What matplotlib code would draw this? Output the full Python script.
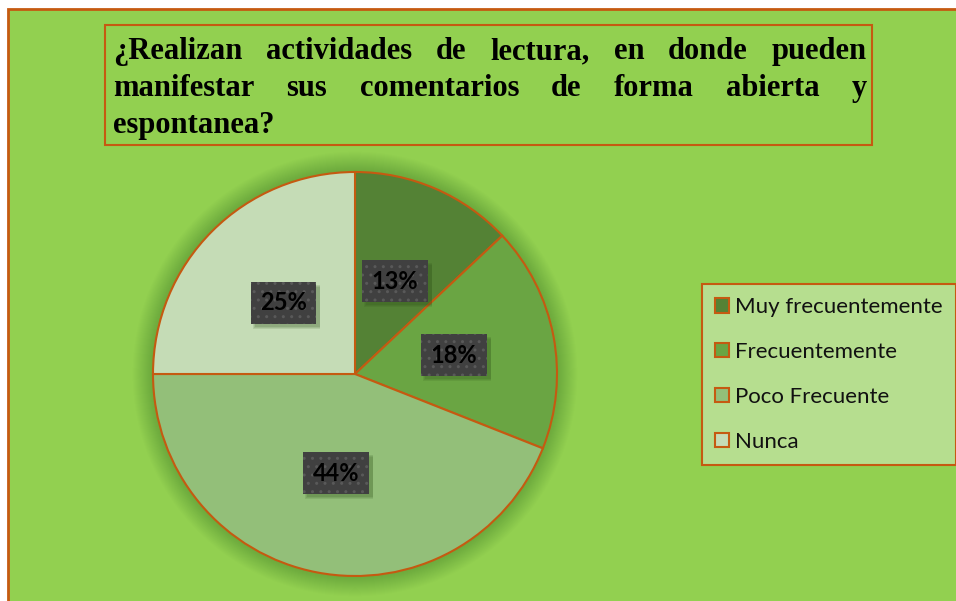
import matplotlib
matplotlib.use('Agg')
import matplotlib.pyplot as plt
from matplotlib.patches import Rectangle, Circle
from matplotlib.transforms import IdentityTransform

categories = ['Muy frecuentemente', 'Frecuentemente', 'Poco Frecuente', 'Nunca']
values = [13, 18, 44, 25]
colors = ['#548235', '#6aa543', '#93bf79', '#c5dcb6']
title_lines = ['¿Realizan actividades de lectura, en donde pueden',
               'manifestar sus comentarios de forma abierta y',
               'espontanea?']

W, H = 956, 601
ORANGE = '#c55a11'
GREEN = '#92d050'

fig = plt.figure(figsize=(W / 100, H / 100), dpi=100)
fig.patch.set_facecolor('white')
bg = fig.add_axes([0, 0, 1, 1])
bg.set_xlim(0, W)
bg.set_ylim(H, 0)
bg.axis('off')
bg.add_patch(Rectangle((8, 9), W + 20, H + 20, facecolor=GREEN, edgecolor=ORANGE, lw=2))
bg.add_patch(Rectangle((105, 25), 767, 120, facecolor=GREEN, edgecolor=ORANGE, lw=1.5))

# justified title
renderer = fig.canvas.get_renderer()
x0, x1 = 113, 867
baselines = [59, 96, 133]
TFS = 22
tfont = dict(fontfamily='Liberation Serif', fontweight='bold', fontsize=TFS, color='black')
for i, (line, yb) in enumerate(zip(title_lines, baselines)):
    words = line.split()
    texts = [bg.text(0, yb, w, va='baseline', ha='left', **tfont) for w in words]
    widths = [t.get_window_extent(renderer).width for t in texts]
    if i < len(title_lines) - 1 and len(words) > 1:
        gap = (x1 - x0 - sum(widths)) / (len(words) - 1)
    else:
        gap = TFS * 0.25 * 100 / 72
    x = x0
    for t, w in zip(texts, widths):
        t.set_x(x)
        x += w + gap

# pie
R, cx, cy = 202, 355, 374
ext = 1.25
ax = fig.add_axes([(cx - ext * R) / W, (H - cy - ext * R) / H, 2 * ext * R / W, 2 * ext * R / H])
for k in range(20):
    ax.add_patch(Circle((0, 0), 1.10 - 0.005 * k, facecolor='#3f6e22', edgecolor='none',
                        alpha=0.02, zorder=0))
wedges, texts, autotexts = ax.pie(values, colors=colors, startangle=90, counterclock=False,
                                  autopct='%1.0f%%', pctdistance=0.5,
                                  wedgeprops=dict(edgecolor=ORANGE, linewidth=1.5))
ax.set_xlim(-ext, ext)
ax.set_ylim(-ext, ext)
ax.set_aspect('auto')
ax.axis('off')
for at in autotexts:
    at.set_fontfamily('Lato')
    at.set_fontweight('bold')
    at.set_fontsize(17)
    at.set_color('black')
    at.set_zorder(5)
    at.set_bbox(dict(boxstyle='square,pad=0.4', facecolor='#404040', edgecolor='#595959',
                     hatch='..', linewidth=0))

fig.canvas.draw()
renderer = fig.canvas.get_renderer()
for at in autotexts:
    bb = at.get_bbox_patch().get_window_extent(renderer)
    for k, a in enumerate([0.12, 0.12, 0.15]):
        ax.add_patch(Rectangle((bb.x0 + 2 + k, bb.y0 - 5 + k), bb.width + 2 - k, bb.height,
                               transform=IdentityTransform(), facecolor='#2d4f18',
                               edgecolor='none', alpha=a, zorder=4, clip_on=False))

leg = fig.legend(wedges, categories, loc='upper left', bbox_to_anchor=(702 / W, 1 - 284 / H),
                 frameon=True, fancybox=False, facecolor='#b6de8f', edgecolor=ORANGE, framealpha=1,
                 prop=dict(family='Lato', size=16), handlelength=0.6, handleheight=0.6,
                 handletextpad=0.3, labelspacing=1.12, borderpad=0.6, borderaxespad=0)
leg.get_frame().set_linewidth(1.5)
for t in leg.get_texts():
    t.set_color('#111111')

fig.savefig('out.png', dpi=100, facecolor='white')
